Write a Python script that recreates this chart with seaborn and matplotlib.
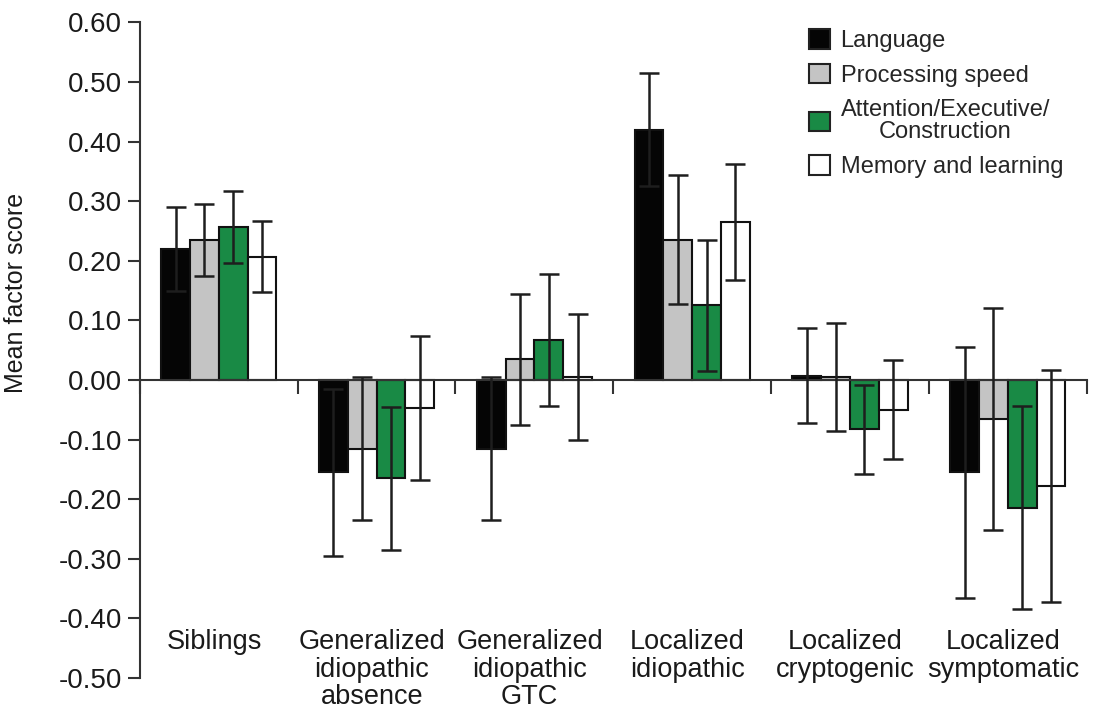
import matplotlib
matplotlib.use("Agg")
import matplotlib.pyplot as plt
import matplotlib.transforms as mtransforms
import numpy as np
import pandas as pd
import seaborn as sns

sns.set_theme(style="white")
plt.rcParams["font.family"] = ["Liberation Sans", "DejaVu Sans"]

groups = ["Siblings", "Generalized\nidiopathic\nabsence", "Generalized\nidiopathic\nGTC",
          "Localized\nidiopathic", "Localized\ncryptogenic", "Localized\nsymptomatic"]
factors = ["Language", "Processing speed", "Attention/Executive/\nConstruction", "Memory and learning"]

language = [0.22, -0.155, -0.115, 0.42, 0.007, -0.155]
language_err = [0.07, 0.14, 0.12, 0.095, 0.08, 0.21]
speed = [0.235, -0.115, 0.035, 0.235, 0.005, -0.066]
speed_err = [0.06, 0.12, 0.11, 0.108, 0.09, 0.186]
attention = [0.257, -0.165, 0.067, 0.125, -0.083, -0.214]
attention_err = [0.06, 0.12, 0.11, 0.11, 0.075, 0.17]
memory = [0.207, -0.047, 0.005, 0.265, -0.05, -0.178]
memory_err = [0.06, 0.12, 0.105, 0.097, 0.083, 0.195]

yticks = [-0.5, -0.4, -0.3, -0.2, -0.1, 0.0, 0.1, 0.2, 0.3, 0.4, 0.5, 0.6]
ytick_labels = ["-0.50", "-0.40", "-0.30", "-0.20", "-0.10", "0.00",
                "0.10", "0.20", "0.30", "0.40", "0.50", "0.60"]

colors = ["#050505", "#c4c4c4", "#198a45", "#ffffff"]

values = [language, speed, attention, memory]
errors = [language_err, speed_err, attention_err, memory_err]

df = pd.DataFrame({
    "group": np.repeat([groups], 4, axis=0).ravel(),
    "factor": np.repeat(factors, len(groups)),
    "score": np.concatenate(values),
})

fig = plt.figure(figsize=(11.01, 7.19), dpi=100)
ax = fig.add_axes([0.127, 0.057, 0.860, 0.912])

sns.barplot(data=df, x="group", y="score", hue="factor", hue_order=factors,
            order=groups, palette=colors, width=0.73, gap=0, errorbar=None,
            edgecolor="#111111", linewidth=1.5, saturation=1, ax=ax)

# error bars on top of each bar
for cont, err in zip(ax.containers, errors):
    xs = [p.get_x() + p.get_width() / 2 for p in cont.patches]
    ys = [p.get_y() + p.get_height() for p in cont.patches]
    ax.errorbar(xs, ys, yerr=err, fmt="none", ecolor="#1e1e1e",
                elinewidth=1.8, capsize=7, capthick=1.8, zorder=5)

ax.set_ylim(-0.5, 0.6)
ax.set_xlim(-0.5, len(groups) - 0.5)
ax.set_yticks(yticks)
ax.set_yticklabels(ytick_labels, fontsize=20, color="#1a1a1a")
ax.tick_params(axis="y", direction="out", length=9, width=1.5, left=True, pad=4,
               color="#333333")

ax.set_xticks(np.arange(-0.5, len(groups), 1.0))
ax.set_xticklabels([])
ax.tick_params(axis="x", direction="out", length=10, width=1.5, bottom=True,
               color="#333333")

for side in ["top", "right"]:
    ax.spines[side].set_visible(False)
ax.spines["bottom"].set_position(("data", 0))
for side in ["left", "bottom"]:
    ax.spines[side].set_color("#333333")
    ax.spines[side].set_linewidth(1.5)

trans = mtransforms.blended_transform_factory(ax.transData, ax.transAxes)
for i, g in enumerate(groups):
    ax.text(i - 0.03, 0.075, g, transform=trans, ha="center", va="top",
            fontsize=19.5, linespacing=1.09, color="#1a1a1a")

ax.set_xlabel("")
ax.set_ylabel("Mean factor score", fontsize=18, color="#1a1a1a")
ax.yaxis.set_label_coords(-0.118, 0.588)

leg = ax.legend(loc="upper right", bbox_to_anchor=(0.985, 1.004), frameon=False,
                fontsize=17, handlelength=0.9, handleheight=0.9,
                handletextpad=0.45, labelspacing=0.5, borderaxespad=0.0)
for t in leg.get_texts():
    t.set_multialignment("center")
    t.set_linespacing(1.05)
for h in leg.legend_handles:
    h.set_edgecolor("#222222")
    h.set_linewidth(1.5)

fig.savefig("out.png", dpi=100)
